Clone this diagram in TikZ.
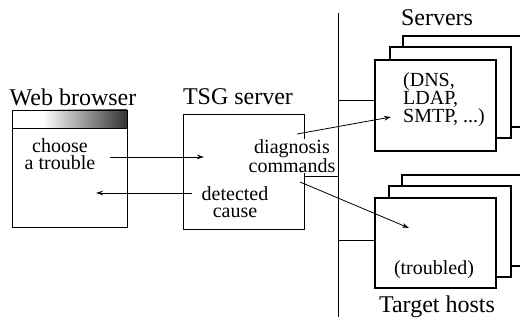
\documentclass[tikz,border=0pt]{standalone}
\usepackage{fontspec}
\setmainfont{Liberation Serif}
\usetikzlibrary{arrows.meta}
\tikzset{
  box/.style={draw=black, line width=0.9pt, fill=white},
  stackbox/.style={draw=black, line width=1.8pt, fill=white},
  wire/.style={draw=black, line width=0.8pt},
  arrowline/.style={draw=black, line width=0.8pt, -{Stealth[length=7pt,width=4.5pt]}},
  title/.style={font=\fontsize{24}{26}\selectfont, inner sep=0pt},
  label/.style={font=\fontsize{20}{17.5}\selectfont, align=center, inner sep=0pt},
}
\begin{document}
\begin{tikzpicture}[x=1pt, y=-1pt]
\useasboundingbox (0,0) rectangle (520,323);

% network bus
\coordinate (busTop) at (338,13);
\coordinate (busBot) at (338,317);
\draw[wire] (busTop) -- (busBot);

% web browser window
\draw[box] (12,110) rectangle (127,227);
\fill[white] (12,110) rectangle (42,128);
\shade[left color=white, right color=black!80] (42,110) rectangle (127,128);
\draw[line width=0.9pt] (12,110) rectangle (127,227);
\draw[line width=0.9pt] (12,128) -- (127,128);
\node[title] (wbTitle) at (73,97) {Web browser};
\node[label] (choose) at (60,154) {choose\\a trouble};

% TSG server
\draw[box] (183,114) rectangle (304,229);
\node[title] (tsgTitle) at (238,97) {TSG server};
\node[label, fill=white, inner sep=0.5pt] (diag) at (292,156) {diagnosis\\commands};
\node[label] (cause) at (235,202) {detected\\cause};

% server stack
\draw[stackbox] (521,127) -- (403,127) -- (403,36) -- (521,36);
\draw[stackbox] (390,47) rectangle (511,138);
\draw[stackbox] (375,60) rectangle (496,151);
\node[title] (srvTitle) at (437,18) {Servers};
\node[label, align=left, anchor=west, font=\fontsize{20}{18}\selectfont] (srvText) at (403,100) {(DNS,\\LDAP,\\SMTP, ...)};

% target host stack
\draw[stackbox] (521,266) -- (402,266) -- (402,175) -- (521,175);
\draw[stackbox] (389,186) rectangle (511,277);
\draw[stackbox] (375,198) rectangle (496,288);
\node[label] (troubled) at (434,270) {(troubled)};
\node[title] (tgtTitle) at (437,307) {Target hosts};

% links onto the bus
\coordinate (tsgPort) at (304,176);
\coordinate (busTsg) at (338,176);
\coordinate (busSrv) at (338,100);
\coordinate (srvPort) at (375,100);
\coordinate (busTgt) at (338,240);
\coordinate (tgtPort) at (375,240);
\draw[wire] (tsgPort) -- (busTsg);
\draw[wire] (busSrv) -- (srvPort);
\draw[wire] (busTgt) -- (tgtPort);

% request / reply flows
\coordinate (reqFrom) at (110,157);
\coordinate (reqTo) at (204,157);
\coordinate (repFrom) at (192,193);
\coordinate (repTo) at (96,193);
\draw[arrowline] (reqFrom) -- (reqTo);
\draw[arrowline] (repFrom) -- (repTo);

\coordinate (cmdA) at (297,134);
\coordinate (cmdAto) at (391,117);
\coordinate (cmdB) at (300,182);
\coordinate (cmdBto) at (409,228);
\draw[arrowline] (cmdA) -- (cmdAto);
\draw[arrowline] (cmdB) -- (cmdBto);
\end{tikzpicture}
\end{document}
